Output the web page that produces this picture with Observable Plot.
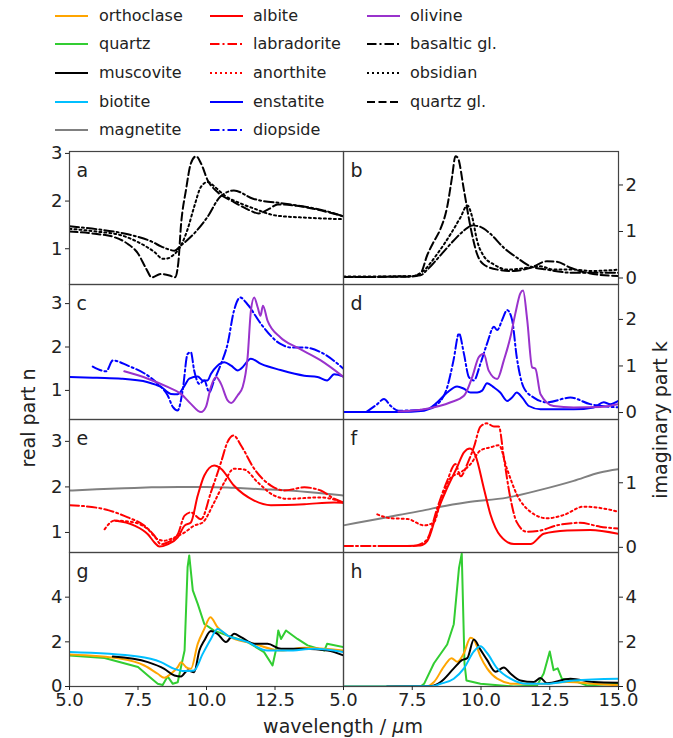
<!DOCTYPE html>
<html><head><meta charset="utf-8">
<script src="https://cdn.jsdelivr.net/npm/d3@7"></script>
<script src="https://cdn.jsdelivr.net/npm/@observablehq/plot@0.6"></script>
<style>
body{margin:0;background:#fff;}
#root{position:relative;width:673px;height:738px;overflow:hidden;font-family:"DejaVu Sans";color:#222;background:#fff;}
.abs{position:absolute;}
.lab{position:absolute;font-size:19px;white-space:nowrap;}
.leg{position:absolute;height:20px;display:flex;align-items:center;font-size:16px;white-space:nowrap;}
</style></head><body><div id="root"></div>
<script>
// ---------- data: [wavelength (µm), value] ----------
// panel a / b : glasses
const basaltic_n = [[5,1.47],[6,1.41],[7,1.32],[7.5,1.25],[8.0,1.15],[8.34,1.05],[8.6,0.99],[8.83,0.96],[9.07,1.07],[9.55,1.32],[10.04,1.67],[10.5,2.09],[11.0,2.22],[11.7,2.05],[12.8,1.95],[13.6,1.88],[14.3,1.8],[15,1.68]];
const obsidian_n = [[5,1.42],[6,1.36],[6.9,1.28],[7.5,1.14],[8.1,0.93],[8.4,0.79],[8.6,0.8],[8.77,0.86],[8.95,0.96],[9.3,1.39],[9.55,1.88],[9.8,2.3],[10.04,2.4],[10.3,2.3],[10.65,2.12],[11.25,1.95],[11.75,1.84],[12.5,1.7],[13.7,1.65],[15,1.62]];
const quartzGl_n = [[5,1.36],[6,1.31],[6.6,1.25],[7.13,1.1],[7.5,0.9],[7.8,0.58],[8.0,0.4],[8.34,0.47],[8.65,0.44],[8.85,0.4],[8.97,0.7],[9.07,1.5],[9.25,2.23],[9.43,2.79],[9.62,2.94],[9.8,2.79],[10.04,2.44],[10.4,2.19],[11.0,1.98],[11.6,1.8],[11.9,1.74],[12.3,1.84],[12.6,1.93],[13.3,1.9],[14.2,1.8],[15,1.68]];
const basaltic_k = [[5,0.02],[7,0.03],[7.8,0.06],[8.05,0.18],[8.5,0.47],[9.0,0.8],[9.38,1.02],[9.68,1.13],[9.98,1.1],[10.34,0.95],[10.83,0.65],[11.3,0.44],[11.8,0.25],[12.4,0.18],[13.4,0.11],[15,0.11]];
const obsidian_k = [[5,0.03],[7.5,0.04],[7.9,0.15],[8.4,0.51],[8.9,0.95],[9.26,1.31],[9.5,1.56],[9.68,1.31],[9.86,0.8],[10.1,0.47],[10.47,0.29],[10.95,0.18],[11.7,0.22],[12.16,0.25],[12.64,0.18],[13.4,0.18],[14,0.15],[15,0.18]];
const quartzGl_k = [[5,0.02],[7.5,0.03],[7.8,0.1],[8.05,0.5],[8.3,0.8],[8.5,1.02],[8.77,1.53],[8.95,2.18],[9.07,2.62],[9.16,2.58],[9.38,1.89],[9.62,1.09],[9.86,0.51],[10.1,0.29],[10.6,0.18],[11.2,0.15],[11.8,0.22],[12.4,0.36],[12.76,0.35],[13.25,0.22],[13.85,0.11],[15,0.04]];
// panel c / d : pyroxenes, olivine
const enstatite_n = [[5,1.31],[6,1.29],[6.9,1.27],[7.86,1.19],[8.34,1.08],[8.7,0.92],[8.95,0.91],[9.2,1.11],[9.37,1.27],[9.68,1.32],[9.86,1.23],[10.04,1.23],[10.16,1.38],[10.4,1.57],[10.65,1.65],[10.9,1.57],[11.14,1.46],[11.26,1.5],[11.62,1.73],[11.99,1.61],[12.7,1.47],[13.57,1.34],[14.05,1.31],[14.4,1.23],[14.66,1.37],[15,1.32]];
const diopside_n = [[5.85,1.55],[6.34,1.44],[6.58,1.69],[7.13,1.57],[7.86,1.34],[8.34,1.08],[8.58,0.89],[8.77,0.62],[8.95,0.54],[9.13,1.0],[9.31,1.84],[9.43,1.88],[9.55,1.46],[9.74,1.15],[9.92,1.23],[10.1,0.96],[10.28,1.23],[10.53,1.61],[10.77,2.07],[11.0,2.83],[11.23,3.14],[11.5,2.98],[11.99,2.53],[12.7,2.07],[13.08,1.99],[13.57,1.99],[14.17,1.88],[15,1.5]];
const olivine_n = [[7.0,1.44],[7.86,1.27],[8.58,1.08],[9.07,0.92],[9.43,0.69],[9.8,0.5],[9.98,0.62],[10.16,1.08],[10.35,1.31],[10.53,1.15],[10.77,0.77],[10.9,0.71],[11.14,0.89],[11.32,1.08],[11.5,1.76],[11.62,2.83],[11.74,3.14],[11.87,2.91],[11.97,2.72],[12.06,2.95],[12.23,2.6],[12.7,2.22],[13.3,1.99],[14.17,1.69],[15,1.31]];
const enstatite_k = [[5,0.01],[7.0,0.01],[7.93,0.04],[8.41,0.22],[8.77,0.43],[9.13,0.56],[9.38,0.51],[9.62,0.43],[9.86,0.43],[10.04,0.47],[10.22,0.63],[10.47,0.54],[10.7,0.43],[10.95,0.25],[11.13,0.32],[11.3,0.43],[11.5,0.32],[11.74,0.14],[12.16,0.07],[13.37,0.07],[14.1,0.11],[14.46,0.22],[14.7,0.18],[15,0.25]];
const diopside_k = [[5.85,0.02],[6.23,0.18],[6.47,0.29],[6.72,0.14],[7.0,0.04],[8.05,0.07],[8.53,0.25],[8.77,0.54],[9.0,1.12],[9.2,1.7],[9.38,1.26],[9.56,0.76],[9.74,0.69],[9.98,1.05],[10.22,1.48],[10.47,1.84],[10.59,1.77],[10.77,1.99],[10.95,2.2],[11.13,1.99],[11.3,1.19],[11.55,0.54],[11.92,0.32],[12.4,0.22],[13.25,0.32],[13.97,0.18],[15,0.11]];
const olivine_k = [[7.0,0.02],[7.93,0.07],[8.9,0.22],[9.38,0.36],[9.68,0.76],[9.92,1.19],[10.1,1.26],[10.28,0.9],[10.59,0.72],[10.83,1.12],[11.07,1.62],[11.25,2.13],[11.43,2.56],[11.53,2.62],[11.68,1.99],[11.86,0.97],[11.98,0.94],[12.16,0.4],[12.64,0.14],[13.37,0.11],[14.33,0.12],[15,0.18]];
// panel e / f : feldspars, magnetite
const magnetite_n = [[5,1.92],[6,1.95],[7,1.97],[8,1.99],[9,2.0],[10,2.0],[11,1.98],[12,1.95],[13,1.92],[14,1.87],[15,1.81]];
const labradorite_n = [[5,1.6],[6.28,1.51],[7.13,1.33],[7.73,1.15],[8.1,0.93],[8.34,0.74],[8.58,0.78],[8.95,0.96],[9.2,1.37],[9.43,1.44],[9.8,1.29],[10.16,1.88],[10.53,2.54],[10.77,2.99],[10.99,3.13],[11.26,2.91],[11.74,2.4],[12.35,2.03],[12.84,1.92],[13.57,1.99],[14.17,1.92],[14.66,1.74],[15,1.66]];
const anorthite_n = [[6.28,1.07],[6.64,1.26],[7.37,1.22],[7.86,1.07],[8.22,0.85],[8.46,0.82],[8.83,0.89],[9.2,1.0],[9.55,1.15],[9.86,1.22],[10.28,1.66],[10.65,2.1],[11.0,2.4],[11.38,2.38],[11.87,2.1],[12.47,1.81],[12.96,1.74],[14.17,1.77],[15,1.65]];
const albite_n = [[6.64,1.26],[7.37,1.15],[7.86,0.96],[8.1,0.78],[8.28,0.69],[8.58,0.74],[8.95,0.89],[9.2,1.15],[9.43,1.22],[9.68,1.81],[9.92,2.25],[10.28,2.47],[10.53,2.4],[11.0,2.03],[11.74,1.7],[12.35,1.6],[13.57,1.62],[14.66,1.66],[15,1.65]];
const magnetite_k = [[5,0.34],[6,0.42],[7,0.5],[8,0.58],[8.53,0.63],[9.5,0.7],[10.95,0.77],[12.16,0.89],[13.37,1.03],[14.33,1.16],[15,1.21]];
const labradorite_k = [[5,0.02],[7.5,0.02],[7.8,0.05],[8.05,0.13],[8.41,0.61],[8.77,1.03],[9.07,1.29],[9.26,1.1],[9.5,1.29],[9.74,1.55],[9.98,1.87],[10.22,1.92],[10.47,1.87],[10.65,1.87],[10.83,1.39],[11.07,0.76],[11.3,0.39],[11.67,0.24],[12.16,0.26],[12.76,0.34],[13.6,0.38],[14.33,0.32],[15,0.29]];
const anorthite_k = [[6.23,0.51],[6.72,0.45],[7.32,0.44],[7.93,0.34],[8.29,0.39],[8.53,0.71],[8.9,1.08],[9.26,1.16],[9.62,1.29],[9.98,1.5],[10.35,1.55],[10.65,1.58],[10.95,1.21],[11.3,0.82],[11.8,0.55],[12.4,0.45],[13.0,0.5],[13.73,0.63],[14.33,0.61],[15,0.55]];
const albite_k = [[6.64,0.02],[7.8,0.03],[8.05,0.1],[8.41,0.55],[8.77,0.92],[9.13,1.24],[9.38,1.47],[9.6,1.53],[9.8,1.42],[10.1,0.92],[10.35,0.5],[10.7,0.18],[11.2,0.05],[11.8,0.05],[12.28,0.21],[13.13,0.26],[13.97,0.27],[15,0.21]];
// panel g / h : quartz, orthoclase, micas
const quartz_n = [[5,1.39],[6.28,1.28],[7.5,0.87],[7.86,0.49],[8.22,0.12],[8.4,0.07],[8.58,0.45],[8.77,0.12],[8.95,0.19],[9.2,1.61],[9.31,5.34],[9.37,5.87],[9.5,4.3],[9.68,3.7],[9.92,2.8],[10.28,2.5],[10.77,2.28],[11.5,1.99],[12.1,1.54],[12.41,0.94],[12.53,1.61],[12.62,2.51],[12.72,2.13],[12.9,2.51],[13.32,2.13],[13.69,1.84],[14.3,1.61],[14.4,1.91],[15,1.76]];
const orthoclase_n = [[5,1.43],[6.88,1.24],[7.73,0.94],[8.22,0.57],[8.46,0.39],[8.7,0.57],[8.95,0.87],[9.07,1.09],[9.25,0.87],[9.43,0.79],[9.68,1.91],[9.92,2.58],[10.14,3.1],[10.4,2.66],[10.77,2.28],[11.74,1.91],[12.72,1.61],[13.57,1.73],[15,1.61]];
const muscovite_n = [[6.58,1.34],[7.86,1.09],[8.46,0.79],[8.83,0.49],[9.07,0.45],[9.31,0.72],[9.55,0.64],[9.74,1.61],[9.92,2.06],[10.16,2.48],[10.4,2.36],[10.71,1.99],[11.01,2.36],[11.26,2.21],[11.74,1.91],[12.23,1.91],[12.72,1.69],[13.57,1.69],[14.42,1.61],[15,1.39]];
const biotite_n = [[5,1.54],[7.5,1.34],[8.34,1.09],[8.83,0.79],[9.2,0.69],[9.55,0.72],[9.86,1.46],[10.16,2.13],[10.4,2.58],[10.77,2.28],[11.5,1.99],[12.23,1.61],[12.96,1.61],[13.93,1.69],[15,1.54]];
const quartz_k = [[5,0.0],[7.8,0.0],[7.93,0.12],[8.29,1.04],[8.77,1.88],[9.01,2.79],[9.2,5.31],[9.3,5.95],[9.4,1.04],[9.47,0.27],[9.98,0.12],[11.19,0.0],[12.04,0.05],[12.28,0.58],[12.5,1.57],[12.64,0.73],[12.79,0.81],[12.94,0.35],[13.37,0.27],[13.85,0.05],[15,0.12]];
const orthoclase_k = [[5,0],[8.0,0.0],[8.29,0.2],[8.65,0.89],[8.93,1.27],[9.14,1.11],[9.38,1.5],[9.62,2.18],[9.74,2.1],[9.98,1.34],[10.22,0.81],[10.59,0.35],[11.19,0.12],[12.16,0.12],[13.13,0.2],[14.1,0.12],[15,0.05]];
const muscovite_k = [[6.58,0.0],[8.2,0.02],[8.53,0.2],[9.01,0.81],[9.32,1.19],[9.5,1.27],[9.74,2.1],[9.98,1.65],[10.22,1.19],[10.53,0.66],[10.83,0.85],[11.07,0.58],[11.43,0.27],[11.92,0.2],[12.16,0.38],[12.4,0.15],[13.25,0.35],[14.1,0.2],[15,0.17]];
const biotite_k = [[5,0],[8.2,0.01],[8.53,0.12],[9.01,0.35],[9.38,0.81],[9.74,1.57],[9.98,1.8],[10.22,1.5],[10.59,0.81],[11.07,0.35],[11.67,0.12],[12.4,0.12],[13.37,0.27],[15,0.35]];

// legend names (order by column)
const legendCols = [
  ["orthoclase","quartz","muscovite","biotite","magnetite"],
  ["albite","labradorite","anorthite","enstatite","diopside"],
  ["olivine","basaltic gl.","obsidian","quartz gl."]
];
const xTicksLeft = [5, 7.5, 10, 12.5];
const xTicksRight = [5, 7.5, 10, 12.5, 15];

// ---------- styles ----------
const DASH = {solid: null, dashed: "8,3.5", dashdot: "9.5,3,2,3", dotted: "2,3"};
const STYLE = {
  "orthoclase": {c:"#FFA500", d:"solid"},
  "quartz": {c:"#32CD32", d:"solid", curve:"linear"},
  "muscovite": {c:"#000000", d:"solid"},
  "biotite": {c:"#00BFFF", d:"solid"},
  "magnetite": {c:"#808080", d:"solid"},
  "albite": {c:"#FF0000", d:"solid"},
  "labradorite": {c:"#FF0000", d:"dashdot"},
  "anorthite": {c:"#FF0000", d:"dotted"},
  "enstatite": {c:"#0000FF", d:"solid"},
  "diopside": {c:"#0000FF", d:"dashdot"},
  "olivine": {c:"#9932CC", d:"solid"},
  "basaltic gl.": {c:"#000000", d:"dashdot"},
  "obsidian": {c:"#000000", d:"dotted"},
  "quartz gl.": {c:"#000000", d:"dashed"}
};

const panels = [
  {letter:"a", col:0, row:0, domain:[0.25,3.04], ticks:[1,2,3], lines:[["basaltic gl.",basaltic_n],["obsidian",obsidian_n],["quartz gl.",quartzGl_n]]},
  {letter:"b", col:1, row:0, domain:[-0.14,2.72], ticks:[0,1,2], lines:[["basaltic gl.",basaltic_k],["obsidian",obsidian_k],["quartz gl.",quartzGl_k]]},
  {letter:"c", col:0, row:1, domain:[0.33,3.44], ticks:[1,2,3], lines:[["enstatite",enstatite_n],["diopside",diopside_n],["olivine",olivine_n]]},
  {letter:"d", col:1, row:1, domain:[-0.15,2.75], ticks:[0,1,2], lines:[["enstatite",enstatite_k],["diopside",diopside_k],["olivine",olivine_k]]},
  {letter:"e", col:0, row:2, domain:[0.56,3.48], ticks:[1,2,3], lines:[["magnetite",magnetite_n],["albite",albite_n],["labradorite",labradorite_n],["anorthite",anorthite_n]]},
  {letter:"f", col:1, row:2, domain:[-0.08,1.98], ticks:[0,1], lines:[["magnetite",magnetite_k],["albite",albite_k],["labradorite",labradorite_k],["anorthite",anorthite_k]]},
  {letter:"g", col:0, row:3, domain:[0,6], ticks:[0,2,4], lines:[["quartz",quartz_n],["orthoclase",orthoclase_n],["muscovite",muscovite_n],["biotite",biotite_n]]},
  {letter:"h", col:1, row:3, domain:[0,6], ticks:[0,2,4], lines:[["quartz",quartz_k],["orthoclase",orthoclase_k],["muscovite",muscovite_k],["biotite",biotite_k]]}
];

// ---------- layout ----------
const root = document.getElementById("root");
const COLS = [[69,343],[343,618]];
const ROWS = [[151,284],[284,419],[419,552],[552,686]];
const FONT = "DejaVu Sans";

for (const p of panels) {
  const L = p.col === 0;
  const [x0,x1] = COLS[p.col];
  const [y0,y1] = ROWS[p.row];
  const mL = L ? 60 : 2, mR = L ? 2 : 45, mT = 4, mB = p.row === 3 ? 40 : 4;
  const marks = [];
  for (const [name, data] of p.lines) {
    const s = STYLE[name];
    marks.push(Plot.line(data, {x: d => d[0], y: d => d[1], stroke: s.c, strokeWidth: 2,
      strokeDasharray: DASH[s.d], curve: s.curve || "monotone-x", clip: true}));
  }
  marks.push(Plot.frame({stroke: "#444", strokeWidth: 1.2}));
  marks.push(Plot.axisY(p.ticks, {anchor: L ? "left" : "right", tickSize: 4, tickPadding: 3,
    tickFormat: d3.format("d"), fontSize: 18, label: null}));
  if (p.row === 3) {
    marks.push(Plot.axisX(L ? xTicksLeft : xTicksRight, {anchor: "bottom", tickSize: 4, tickPadding: 3,
      tickFormat: d3.format(".1f"), fontSize: 18, label: null}));
  }
  marks.push(Plot.text([p.letter], {text: d => d, frameAnchor: "top-left", dx: 7, dy: 12, fontSize: 19}));
  const svg = Plot.plot({
    width: x1 - x0 + mL + mR, height: y1 - y0 + mT + mB,
    marginLeft: mL, marginRight: mR, marginTop: mT, marginBottom: mB,
    x: {domain: [5, 15], axis: p.row === 3 ? undefined : null},
    y: {domain: p.domain},
    style: {fontFamily: FONT, fontSize: "18px", color: "#222", background: "transparent", overflow: "visible"},
    marks
  });
  svg.style.position = "absolute";
  svg.style.left = (x0 - mL) + "px";
  svg.style.top = (y0 - mT) + "px";
  root.appendChild(svg);
}

// ---------- axis labels ----------
function label(text, cx, cy, rot) {
  const d = document.createElement("div");
  d.className = "lab";
  d.innerHTML = text;
  d.style.left = cx + "px"; d.style.top = cy + "px";
  d.style.transform = `translate(-50%,-50%)` + (rot ? ` rotate(${rot}deg)` : "");
  root.appendChild(d);
}
label("real part n", 28, 418, -90);
label("imaginary part k", 660, 420, -90);
label("wavelength / <i>µ</i>m", 343, 726, 0);

// ---------- legend ----------
const legX = [[55, 99], [210, 253], [367, 410]];
const legY = [16, 44, 73, 102, 130];
legendCols.forEach((col, ci) => {
  col.forEach((name, ri) => {
    const s = STYLE[name];
    const sw = document.createElementNS("http://www.w3.org/2000/svg", "svg");
    sw.setAttribute("width", 34); sw.setAttribute("height", 6);
    sw.style.position = "absolute";
    sw.style.left = legX[ci][0] + "px"; sw.style.top = (legY[ri] - 3) + "px";
    const ln = document.createElementNS("http://www.w3.org/2000/svg", "line");
    ln.setAttribute("x1", 0); ln.setAttribute("x2", 33); ln.setAttribute("y1", 3); ln.setAttribute("y2", 3);
    ln.setAttribute("stroke", s.c); ln.setAttribute("stroke-width", 2);
    if (DASH[s.d]) ln.setAttribute("stroke-dasharray", DASH[s.d]);
    sw.appendChild(ln);
    root.appendChild(sw);
    const t = document.createElement("div");
    t.className = "leg";
    t.textContent = name;
    t.style.left = legX[ci][1] + "px"; t.style.top = (legY[ri] - 11) + "px";
    root.appendChild(t);
  });
});
</script></body></html>
